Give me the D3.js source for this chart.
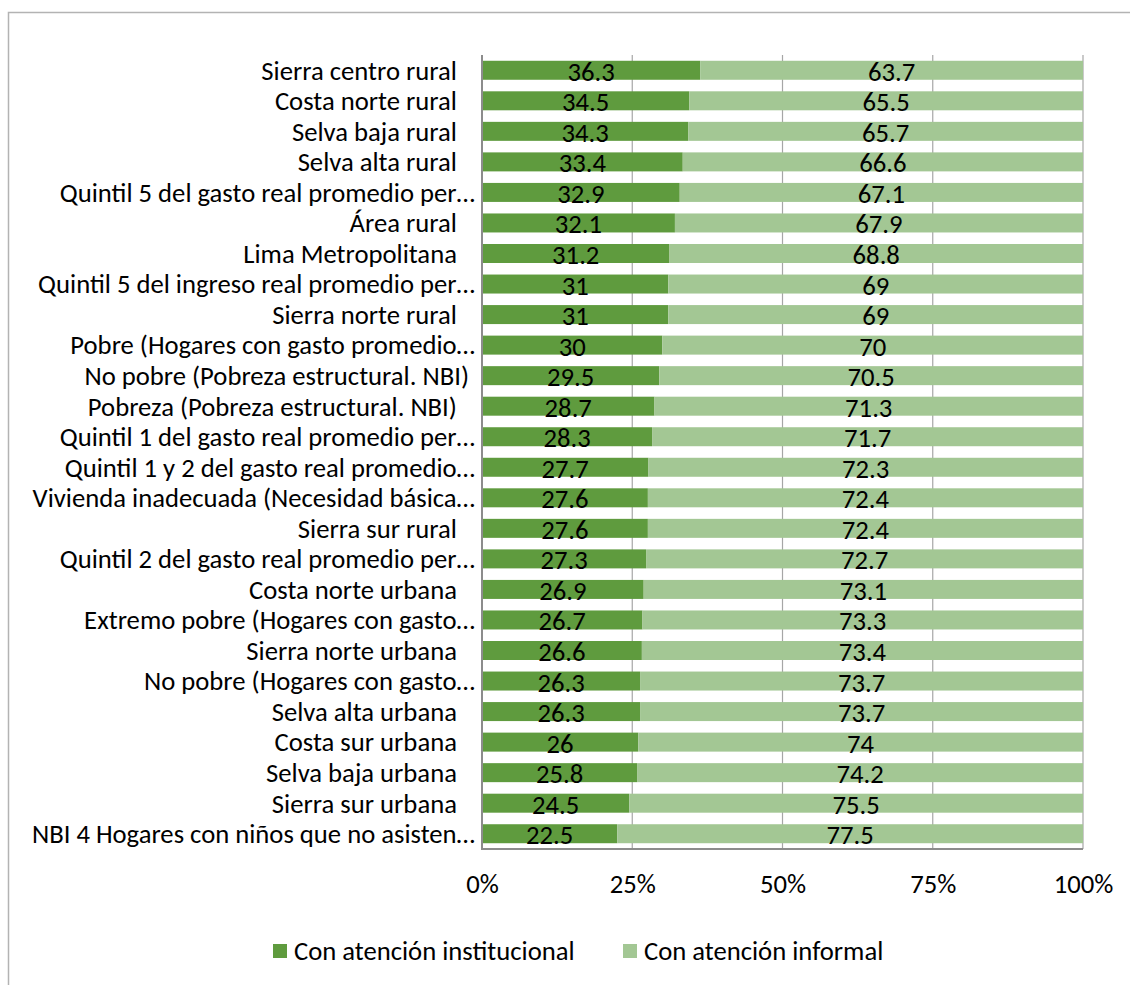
<!DOCTYPE html>
<html>
<head>
<meta charset="utf-8">
<script src="https://cdn.jsdelivr.net/npm/d3@7/dist/d3.min.js"></script>
<style>
  html, body { margin: 0; padding: 0; background: #fff; }
  svg { display: block; }
  text { font-family: Carlito, Calibri, Lato, sans-serif; fill: #000; }
</style>
</head>
<body>
<svg id="chart" width="1130" height="985"></svg>
<script>
// Categories, top to bottom
const categories = [
  "Sierra centro rural   ",
  "Costa norte rural   ",
  "Selva baja rural   ",
  "Selva alta rural   ",
  "Quintil 5 del gasto real promedio per…",
  "Área rural   ",
  "Lima Metropolitana   ",
  "Quintil 5 del ingreso real promedio per…",
  "Sierra norte rural   ",
  "Pobre (Hogares con gasto promedio…",
  "No pobre (Pobreza estructural. NBI) ",
  "Pobreza (Pobreza estructural. NBI)   ",
  "Quintil 1 del gasto real promedio per…",
  "Quintil 1 y 2 del gasto real promedio…",
  "Vivienda inadecuada (Necesidad básica…",
  "Sierra sur rural   ",
  "Quintil 2 del gasto real promedio per…",
  "Costa norte urbana   ",
  "Extremo pobre (Hogares con gasto…",
  "Sierra norte urbana   ",
  "No pobre (Hogares con gasto…",
  "Selva alta urbana   ",
  "Costa sur urbana   ",
  "Selva baja urbana   ",
  "Sierra sur urbana   ",
  "NBI 4 Hogares con niños que no asisten…"
];

// Share of births with institutional care (%)
const institucional = [36.3, 34.5, 34.3, 33.4, 32.9, 32.1, 31.2, 31, 31, 30, 29.5, 28.7, 28.3,
  27.7, 27.6, 27.6, 27.3, 26.9, 26.7, 26.6, 26.3, 26.3, 26, 25.8, 24.5, 22.5];

// Share of births with informal care (%)
const informal = [63.7, 65.5, 65.7, 66.6, 67.1, 67.9, 68.8, 69, 69, 70, 70.5, 71.3, 71.7,
  72.3, 72.4, 72.4, 72.7, 73.1, 73.3, 73.4, 73.7, 73.7, 74, 74.2, 75.5, 77.5];

const seriesNames = ["Con atención institucional", "Con atención informal"];
const seriesColors = ["#5f9b3e", "#a3c794"];
const xTicks = [0, 0.25, 0.5, 0.75, 1];

const svg = d3.select("#chart");
const W = 1130, H = 985;

// Chart frame
svg.append("path")
  .attr("d", `M${W + 2},12.5 H8.5 V${H + 2}`)
  .attr("fill", "none")
  .attr("stroke", "#b3b3b3")
  .attr("stroke-width", 1.5);

const plot = { left: 482, right: 1083, top: 55, bottom: 849 };

const x = d3.scaleLinear().domain([0, 1]).range([plot.left, plot.right]);
const y = d3.scaleBand().domain(d3.range(categories.length))
  .range([plot.top, plot.bottom]).paddingInner(0.378).paddingOuter(0.189);

const rows = categories.map((c, i) => {
  const a = institucional[i], b = informal[i], t = a + b;
  return { i, c, a, b, t };
});

// Vertical gridlines
svg.append("g").selectAll("line")
  .data(xTicks.filter(d => d > 0))
  .join("line")
  .attr("x1", d => x(d)).attr("x2", d => x(d))
  .attr("y1", plot.top).attr("y2", plot.bottom)
  .attr("stroke", "#a6a6a6").attr("stroke-width", 1.2);

// Stacked bars
const bars = svg.append("g");
bars.selectAll("rect.inst")
  .data(rows).join("rect")
  .attr("class", "inst")
  .attr("x", x(0))
  .attr("y", d => y(d.i))
  .attr("width", d => x(d.a / d.t) - x(0))
  .attr("height", y.bandwidth())
  .attr("fill", seriesColors[0]);

bars.selectAll("rect.inf")
  .data(rows).join("rect")
  .attr("class", "inf")
  .attr("x", d => x(d.a / d.t))
  .attr("y", d => y(d.i))
  .attr("width", d => x(1) - x(d.a / d.t))
  .attr("height", y.bandwidth())
  .attr("fill", seriesColors[1]);

// Value labels (20pt)
const fs = 26.67;
const labels = svg.append("g").attr("font-size", fs);
labels.selectAll("text.la")
  .data(rows).join("text")
  .attr("class", "la")
  .attr("x", d => (x(0) + x(d.a / d.t)) / 2)
  .attr("y", d => y(d.i) + y.bandwidth() / 2 + 10.5)
  .attr("text-anchor", "middle")
  .text(d => d.a);
labels.selectAll("text.lb")
  .data(rows).join("text")
  .attr("class", "lb")
  .attr("x", d => (x(d.a / d.t) + x(1)) / 2)
  .attr("y", d => y(d.i) + y.bandwidth() / 2 + 10.5)
  .attr("text-anchor", "middle")
  .text(d => d.b);

// Category axis
const yAxis = svg.append("g")
  .attr("transform", `translate(${plot.left},0)`)
  .call(d3.axisLeft(y).tickSize(0).tickPadding(7).tickFormat(i => categories[i]));
yAxis.select(".domain").remove();
yAxis.attr("font-family", null);
yAxis.selectAll("text")
  .attr("font-size", fs)
  .attr("dy", "0.35em")
  .style("white-space", "pre");

svg.append("line")
  .attr("x1", plot.left).attr("x2", plot.left)
  .attr("y1", plot.top).attr("y2", plot.bottom + 1)
  .attr("stroke", "#8c8c8c").attr("stroke-width", 2);

// Value axis
const xAxis = svg.append("g")
  .attr("transform", `translate(0,${plot.bottom})`)
  .call(d3.axisBottom(x).tickValues(xTicks).tickSize(0).tickPadding(25).tickFormat(d3.format(".0%")));
xAxis.attr("font-family", null);
xAxis.select(".domain").remove();
xAxis.selectAll("text").attr("font-size", fs);

svg.append("line")
  .attr("x1", plot.left - 1).attr("x2", plot.right)
  .attr("y1", plot.bottom).attr("y2", plot.bottom)
  .attr("stroke", "#8c8c8c").attr("stroke-width", 2);

// Legend
const legendItems = [
  { name: seriesNames[0], color: seriesColors[0], x: 273 },
  { name: seriesNames[1], color: seriesColors[1], x: 623 }
];
const lg = svg.append("g").selectAll("g").data(legendItems).join("g")
  .attr("transform", d => `translate(${d.x},951)`);
lg.append("rect").attr("x", 0).attr("y", -7).attr("width", 14).attr("height", 14)
  .attr("fill", d => d.color);
lg.append("text").attr("x", 21).attr("y", 0).attr("dy", "0.35em")
  .attr("font-size", fs).text(d => d.name);
</script>
</body>
</html>
